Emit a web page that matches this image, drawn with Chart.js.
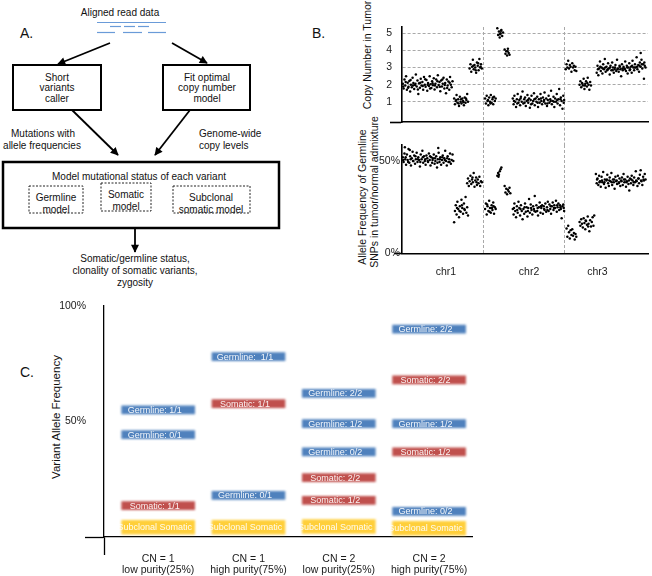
<!DOCTYPE html>
<html>
<head>
<meta charset="utf-8">
<script src="https://cdn.jsdelivr.net/npm/chart.js@4.4.0/dist/chart.umd.min.js"></script>
<style>
  html, body { margin:0; padding:0; background:#fff; }
  body { width:652px; height:576px; position:relative; overflow:hidden; font-family:"Liberation Sans", Arial, sans-serif; color:#111; }
  canvas { position:absolute; }
  .t { position:absolute; white-space:nowrap; transform:translate(-50%,-50%); line-height:1; }
  .rot { transform:translate(-50%,-50%) rotate(-90deg); }
  svg { position:absolute; left:0; top:0; }
</style>
</head>
<body>

<!-- Panel A : flowchart -->
<svg width="330" height="292" viewBox="0 0 330 292" font-family="Liberation Sans, Arial, sans-serif" font-size="10" fill="#111">
  <defs>
    <marker id="ah" viewBox="0 0 10 10" refX="9" refY="5" markerWidth="9" markerHeight="8" markerUnits="userSpaceOnUse" orient="auto">
      <path d="M0,0 L10,5 L0,10 z" fill="#000"/>
    </marker>
  </defs>
  <text x="120" y="12" text-anchor="middle" dominant-baseline="central">Aligned read data</text>
  <g stroke="#6a9bd8" stroke-width="1.2">
    <line x1="97" y1="22.5" x2="166" y2="22.5"/>
    <line x1="110" y1="26.5" x2="121" y2="26.5"/><line x1="124" y1="26.5" x2="135" y2="26.5"/><line x1="138" y1="26.5" x2="149" y2="26.5"/>
    <line x1="97" y1="32.5" x2="115" y2="32.5"/><line x1="123" y1="32.5" x2="142" y2="32.5"/><line x1="148" y1="32.5" x2="166" y2="32.5"/>
  </g>
  <text x="20" y="33" font-size="14" dominant-baseline="central">A.</text>
  <text x="312" y="33" font-size="14" dominant-baseline="central">B.</text>
  <g stroke="#000" stroke-width="1.8" marker-end="url(#ah)">
    <line x1="110" y1="43" x2="58" y2="64"/>
    <line x1="172" y1="43" x2="207" y2="63"/>
    <line x1="72" y1="110" x2="118" y2="155"/>
    <line x1="190" y1="110" x2="155" y2="155"/>
    <line x1="135" y1="229" x2="135" y2="252"/>
  </g>
  <rect x="13" y="65" width="88" height="45" fill="none" stroke="#000" stroke-width="2"/>
  <rect x="163" y="65" width="87" height="45" fill="none" stroke="#000" stroke-width="2"/>
  <g text-anchor="middle" dominant-baseline="central">
    <text x="57" y="77">Short</text><text x="57" y="87.5">variants</text><text x="57" y="98">caller</text>
    <text x="207" y="77">Fit optimal</text><text x="207" y="87.5">copy number</text><text x="207" y="98">model</text>
    <text x="43" y="133">Mutations with</text><text x="42" y="145">allele frequencies</text>
  </g>
  <g dominant-baseline="central">
    <text x="199" y="133">Genome-wide</text><text x="199" y="145">copy levels</text>
  </g>
  <rect x="3" y="162" width="276" height="66" fill="none" stroke="#000" stroke-width="2.5"/>
  <g fill="none" stroke="#222" stroke-width="1" stroke-dasharray="2,1.5">
    <rect x="29" y="186" width="54" height="27"/>
    <rect x="101" y="183" width="50" height="28"/>
    <rect x="173" y="186" width="77" height="27"/>
  </g>
  <g text-anchor="middle" dominant-baseline="central">
    <text x="139" y="176">Model mutational status of each variant</text>
    <text x="56" y="197">Germline</text><text x="56" y="209">model</text>
    <text x="126" y="194">Somatic</text><text x="126" y="206">model</text>
    <text x="211" y="197">Subclonal</text><text x="211" y="209">somatic model</text>
    <text x="135" y="258.5">Somatic/germline status,</text>
    <text x="135" y="270.5">clonality of somatic variants,</text>
    <text x="135" y="282.5">zygosity</text>
  </g>
</svg>

<!-- Panel B -->
<div class="t rot" style="left:367px; top:55px; font-size:10.5px;">Copy Number in Tumor</div>
<div class="t rot" style="left:362px; top:197px; font-size:10.5px;">Allele Frequency of Germline</div>
<div class="t rot" style="left:374px; top:192px; font-size:10.5px;">SNPs in tumor/normal admixture</div>
<canvas id="cn" width="312" height="145" style="left:340px; top:0px;"></canvas>
<canvas id="af" width="312" height="155" style="left:340px; top:135px;"></canvas>

<!-- Panel C -->
<div class="t" style="left:27px; top:372px; font-size:14px; transform:translate(-50%,-50%);">C.</div>
<div class="t rot" style="left:57px; top:417px; font-size:11.5px;">Variant Allele Frequency</div>
<canvas id="vaf" width="490" height="286" style="left:0px; top:290px;"></canvas>

<script>
// ---------- Panel B data : copy number in tumor ([chromosome position, copy number]) ----------
const cnChr1 = [
[0.01,2.05],[0.02,1.78],[0.03,2.3],[0.04,1.95],[0.05,2.5],[0.06,1.7],[0.07,2.12],[0.08,1.88],[0.09,2.22],[0.10,1.6],
[0.11,2.0],[0.12,1.85],[0.13,2.4],[0.14,2.1],[0.15,1.75],[0.16,1.98],[0.17,2.6],[0.18,1.9],[0.19,2.25],[0.20,1.45],
[0.21,2.08],[0.22,1.82],[0.23,2.35],[0.24,1.95],[0.25,2.15],[0.26,1.7],[0.27,2.45],[0.28,2.0],[0.29,1.88],[0.30,2.28],
[0.31,1.65],[0.32,2.1],[0.33,1.92],[0.34,2.5],[0.35,2.02],[0.36,1.8],[0.37,2.2],[0.38,1.96],[0.39,2.38],[0.40,1.72],
[0.41,2.06],[0.42,2.3],[0.43,1.85],[0.44,2.55],[0.45,1.98],[0.46,2.15],[0.47,1.62],[0.48,2.25],[0.49,1.9],[0.50,2.05],
[0.51,2.4],[0.52,1.78],[0.53,2.1],[0.54,1.5],[0.55,2.3],[0.56,1.95],[0.57,2.18],[0.58,1.7],[0.59,2.45],[0.60,2.0],
[0.61,1.85],[0.62,2.2],[0.015,1.9],[0.045,2.15],[0.075,1.82],[0.105,2.28],[0.135,1.95],[0.165,2.05],[0.195,1.72],[0.225,2.12],
[0.255,1.92],[0.285,2.32],[0.315,2.0],[0.345,1.78],[0.375,2.08],[0.405,1.95],[0.435,2.2],[0.465,1.88],[0.495,2.3],[0.525,1.98],
[0.555,1.8],[0.585,2.12],
[0.64,1.2],[0.65,0.85],[0.66,1.05],[0.67,1.4],[0.68,0.95],[0.69,1.15],[0.70,0.75],[0.71,1.3],[0.72,1.0],[0.73,0.9],
[0.74,1.2],[0.75,1.05],[0.76,0.8],[0.77,1.25],[0.78,0.95],[0.79,1.1],[0.80,1.45],[0.81,1.0],[0.665,1.1],[0.695,0.9],
[0.725,1.15],[0.755,0.98],[0.785,1.2],
[0.83,2.95],[0.84,3.2],[0.85,2.75],[0.86,3.05],[0.87,3.45],[0.88,2.9],[0.89,3.15],[0.90,3.0],[0.91,2.7],[0.92,3.3],
[0.93,3.1],[0.94,2.85],[0.95,3.5],[0.96,3.0],[0.97,3.2],[0.98,2.95],[0.875,3.1],[0.905,2.85],[0.935,3.25],[0.965,3.05]
];
const cnChr2 = [
[1.02,1.2],[1.03,0.9],[1.04,1.35],[1.05,1.05],[1.06,0.8],[1.07,1.25],[1.08,1.0],[1.09,1.4],[1.10,0.95],[1.11,1.15],
[1.12,0.85],[1.13,1.3],[1.14,1.05],[1.15,1.2],[1.055,1.1],[1.085,0.9],[1.115,1.25],
[1.17,5.3],[1.18,4.9],[1.19,5.1],[1.20,4.75],[1.21,5.0],[1.22,5.2],[1.23,4.85],[1.24,5.05],[1.185,5.45],[1.205,4.95],[1.215,5.15],
[1.26,4.05],[1.27,3.8],[1.28,3.95],[1.29,3.7],[1.30,4.1],[1.31,3.85],[1.32,3.75],[1.295,3.95],
[1.36,1.2],[1.37,0.85],[1.38,1.35],[1.39,1.0],[1.40,0.7],[1.41,1.15],[1.42,1.45],[1.43,0.95],[1.44,1.1],[1.45,0.8],
[1.46,1.3],[1.47,1.0],[1.48,1.6],[1.49,0.9],[1.50,1.15],[1.51,1.25],[1.52,0.75],[1.53,1.05],[1.54,1.4],[1.55,0.95],
[1.56,1.2],[1.57,0.65],[1.58,1.1],[1.59,1.35],[1.60,0.9],[1.61,1.05],[1.62,1.5],[1.63,0.8],[1.64,1.2],[1.65,1.0],
[1.66,1.3],[1.67,0.7],[1.68,1.15],[1.69,0.95],[1.70,1.45],[1.71,1.05],[1.72,0.85],[1.73,1.25],[1.74,1.0],[1.75,1.55],
[1.76,0.9],[1.77,1.2],[1.78,0.75],[1.79,1.1],[1.80,1.35],[1.81,0.95],[1.82,1.15],[1.83,1.65],[1.84,0.85],[1.85,1.05],
[1.86,1.3],[1.87,0.7],[1.88,1.2],[1.89,1.0],[1.90,1.45],[1.91,0.9],[1.92,1.15],[1.93,1.75],[1.94,0.8],[1.95,1.25],
[1.96,1.05],[1.97,0.6],[1.98,1.35],[1.99,1.1],[1.375,1.05],[1.415,0.9],[1.455,1.2],[1.505,0.95],[1.545,1.1],[1.585,0.85],
[1.625,1.15],[1.665,0.95],[1.705,1.2],[1.745,1.1],[1.785,0.9],[1.825,1.05],[1.865,1.0],[1.905,1.1],[1.945,1.15],[1.985,0.95]
];
const cnChr3 = [
[2.01,2.9],[2.02,3.2],[2.03,3.0],[2.04,3.4],[2.05,2.95],[2.06,3.15],[2.07,3.05],[2.08,2.75],[2.09,3.25],[2.10,3.0],
[2.11,3.1],[2.12,2.85],[2.13,3.05],[2.14,2.8],
[2.18,2.0],[2.19,2.2],[2.20,1.85],[2.21,2.1],[2.22,1.95],[2.23,2.35],[2.24,1.75],[2.25,2.05],[2.26,2.2],[2.27,1.9],
[2.28,2.4],[2.29,2.0],[2.30,1.7],[2.31,2.15],[2.32,1.95],[2.215,2.05],[2.245,1.95],[2.275,2.1],
[2.39,2.7],[2.40,3.1],[2.41,2.55],[2.42,2.95],[2.43,3.35],[2.44,2.8],[2.45,3.0],[2.46,2.65],[2.47,3.2],[2.48,2.9],
[2.49,3.5],[2.50,2.75],[2.51,3.05],[2.52,2.85],[2.53,3.25],[2.54,2.95],[2.55,2.6],[2.56,3.1],[2.57,2.85],[2.58,3.3],
[2.59,3.0],[2.60,2.7],[2.61,2.9],[2.62,3.15],[2.63,2.8],[2.64,3.45],[2.65,2.95],[2.66,2.75],[2.67,3.1],[2.68,2.9],
[2.69,2.5],[2.70,3.2],[2.71,2.85],[2.72,3.05],[2.73,2.95],[2.74,3.35],[2.75,2.8],[2.76,3.1],[2.77,2.65],[2.78,3.0],
[2.79,3.25],[2.80,2.9],[2.81,3.05],[2.82,2.7],[2.83,3.4],[2.84,3.0],[2.85,2.85],[2.86,3.2],[2.87,3.0],[2.88,3.6],
[2.89,2.9],[2.90,3.15],[2.91,2.75],[2.92,3.3],[2.93,3.05],[2.94,3.45],[2.95,2.95],[2.96,3.2],[2.97,2.35],[2.98,3.1],
[2.99,3.0],[2.93,3.85],[2.405,2.9],[2.435,3.05],[2.465,2.95],[2.495,3.0],[2.525,2.9],[2.555,3.0],[2.585,2.85],[2.615,3.0],
[2.645,2.9],[2.675,3.05],[2.705,2.95],[2.735,2.9],[2.765,3.0],[2.795,2.85],[2.825,3.1],[2.855,3.0],[2.885,3.05],[2.915,3.1],
[2.945,3.2],[2.975,3.3]
];

// ---------- Panel B data : germline SNP allele frequency (%) ----------
const afChr1 = [
[0.01,52],[0.02,49.5],[0.03,54],[0.04,51],[0.05,48],[0.06,53.5],[0.07,50.5],[0.08,56.5],[0.09,49],[0.10,52.5],
[0.11,47.5],[0.12,51.5],[0.13,55],[0.14,50],[0.15,53],[0.16,48.5],[0.17,51],[0.18,54.5],[0.19,49.5],[0.20,52],
[0.21,50.5],[0.22,47],[0.23,53.5],[0.24,51],[0.25,55.5],[0.26,49],[0.27,52.5],[0.28,50],[0.29,48],[0.30,53],
[0.31,51.5],[0.32,49.5],[0.33,54],[0.34,50.5],[0.35,47.5],[0.36,52],[0.37,49],[0.38,51.5],[0.39,53.5],[0.40,48.5],
[0.41,50],[0.42,52.5],[0.43,46.5],[0.44,51],[0.45,54.5],[0.46,49.5],[0.47,52],[0.48,48],[0.49,50.5],[0.50,53],
[0.51,49],[0.52,51.5],[0.53,55.5],[0.54,50],[0.55,47.5],[0.56,52.5],[0.57,49.5],[0.58,51],[0.59,54],[0.60,48.5],
[0.61,50.5],[0.62,53.5],[0.63,50],[0.015,50.5],[0.045,52],[0.075,49.5],[0.105,51],[0.135,50],[0.165,52.5],[0.195,51],
[0.225,49.5],[0.255,52],[0.285,51],[0.315,50],[0.345,52.5],[0.375,50.5],[0.405,51.5],[0.435,49],[0.465,51],[0.495,52],
[0.525,50.5],[0.555,51.5],[0.585,49.5],[0.035,57.5],[0.095,56],[0.445,57],
[0.64,16.8],[0.65,23],[0.66,26],[0.67,21],[0.68,28],[0.69,24],[0.70,19.5],[0.71,25.5],[0.72,22.5],[0.73,29],
[0.74,24.5],[0.75,21.5],[0.76,27],[0.77,23.5],[0.78,30.5],[0.79,22],[0.80,25],[0.81,20.5],[0.675,24.5],[0.705,23],
[0.735,26],[0.765,24],
[0.80,38],[0.81,40.5],[0.82,36.5],[0.83,39],[0.84,42],[0.85,37.5],[0.86,40],[0.87,38.5],[0.88,43.5],[0.89,36],
[0.90,39.5],[0.91,41],[0.92,37],[0.93,40],[0.94,38],[0.95,41.5],[0.96,36.5],[0.97,39],[0.98,38.5],[0.865,41],[0.915,38.5]
];
const afChr2 = [
[1.02,24],[1.03,27],[1.04,21],[1.05,25.5],[1.06,23],[1.07,28.5],[1.08,24.5],[1.09,22],[1.10,26],[1.11,23.5],
[1.12,27.5],[1.13,21.5],[1.14,25],[1.15,24],[1.045,26.5],[1.075,22.5],[1.105,24.5],[1.125,25.5],
[1.17,42],[1.18,43.5],[1.19,42.5],[1.20,44.5],[1.21,45.5],[1.22,46.5],[1.185,41.5],
[1.26,36.5],[1.27,33],[1.28,35],[1.29,32],[1.30,34.5],[1.31,33.5],[1.32,35.5],[1.33,32.5],
[1.36,24],[1.37,21],[1.38,27],[1.39,23],[1.40,19.5],[1.41,25.5],[1.42,22],[1.43,28],[1.44,24.5],[1.45,20.5],
[1.46,26],[1.47,23],[1.48,18.5],[1.49,24],[1.50,21.5],[1.51,27],[1.52,22.5],[1.53,25],[1.54,20],[1.55,24.5],
[1.56,29.5],[1.57,22],[1.58,26.5],[1.59,23.5],[1.60,21],[1.61,25.5],[1.62,24],[1.63,31],[1.64,22.5],[1.65,26],
[1.66,23],[1.67,20.5],[1.68,25],[1.69,27.5],[1.70,22],[1.71,24.5],[1.72,26],[1.73,21.5],[1.74,25.5],[1.75,23.5],
[1.76,27],[1.77,22.5],[1.78,25],[1.79,28],[1.80,23],[1.81,26.5],[1.82,24],[1.83,21.5],[1.84,25.5],[1.85,27.5],
[1.86,23.5],[1.87,26],[1.88,24.5],[1.89,28.5],[1.90,22.5],[1.91,25],[1.92,27],[1.93,23.5],[1.94,26],[1.95,24],
[1.96,19],[1.97,25.5],[1.98,26.5],[1.99,23],[1.375,24.5],[1.415,23.5],[1.455,24],[1.505,25],[1.545,23],[1.585,24.5],
[1.625,23],[1.665,24.5],[1.705,25.5],[1.745,24],[1.785,23.5],[1.825,25.5],[1.865,24.5],[1.905,26],[1.945,25],[1.985,24.5]
];
const afChr3 = [
[2.02,13.5],[2.03,9],[2.04,15],[2.05,11.5],[2.06,8],[2.07,12.5],[2.08,10],[2.09,13],[2.10,9.5],[2.11,11],
[2.12,7.5],[2.13,10.5],[2.14,9],
[2.18,17],[2.19,15],[2.20,18.5],[2.21,16],[2.22,14],[2.23,19],[2.24,16.5],[2.25,13],[2.26,17.5],[2.27,15.5],
[2.28,20],[2.29,16],[2.30,12],[2.31,18],[2.32,14.5],[2.33,17],[2.34,19.5],[2.35,15],[2.36,20.5],[2.255,17.8],[2.285,14.5],
[2.38,43],[2.39,38],[2.40,40.5],[2.41,37],[2.42,42],[2.43,39],[2.44,36],[2.45,41.5],[2.46,38.5],[2.47,44],
[2.48,37.5],[2.49,40],[2.50,35.5],[2.51,39.5],[2.52,42.5],[2.53,38],[2.54,36.5],[2.55,41],[2.56,39],[2.57,43.5],
[2.58,37],[2.59,40],[2.60,38.5],[2.61,35],[2.62,41.5],[2.63,39],[2.64,37.5],[2.65,42],[2.66,38],[2.67,40.5],
[2.68,36.5],[2.69,39.5],[2.70,41],[2.71,37],[2.72,43],[2.73,38.5],[2.74,40],[2.75,36],[2.76,39],[2.77,41.5],
[2.78,37.5],[2.79,34],[2.80,40.5],[2.81,38],[2.82,42],[2.83,39.5],[2.84,37],[2.85,41],[2.86,38.5],[2.87,44.5],
[2.88,39],[2.89,36.5],[2.90,40.5],[2.91,38],[2.92,42.5],[2.93,45],[2.94,39],[2.95,37],[2.96,41.5],[2.97,39.5],
[2.98,43],[2.99,40],[2.395,40],[2.425,38.5],[2.455,39.5],[2.485,38.5],[2.515,40],[2.545,39.5],[2.575,38.5],[2.605,40],
[2.635,39.5],[2.665,38.5],[2.695,39],[2.725,40],[2.755,38.5],[2.785,39.5],[2.815,40],[2.845,38.5],[2.875,39.5],[2.905,40.5],
[2.935,39.5],[2.965,40]
];
const chrLabels = ['chr1', 'chr2', 'chr3'];
const chrBoundaries = [1, 2];
const cnTicks = [1, 2, 3, 4, 5];
const afTicks = [0, 50];

// ---------- Panel C data ----------
const categories = [['CN = 1', 'low purity(25%)'], ['CN = 1', 'high purity(75%)'], ['CN = 2', 'low purity(25%)'], ['CN = 2', 'high purity(75%)']];
const germlineCat = [0, 0, 1, 1, 2, 2, 2, 3, 3, 3];
const germlineVaf = [55.0, 44.3, 78.1, 18.0, 62.2, 49.1, 36.8, 90.0, 49.1, 11.1];
const germlineLabels = ['Germline: 1/1', 'Germline: 0/1', 'Germline:  1/1', 'Germline: 0/1', 'Germline: 2/2', 'Germline: 1/2', 'Germline: 0/2', 'Germline: 2/2', 'Germline: 1/2', 'Germline: 0/2'];
const somaticCat = [0, 1, 2, 2, 3, 3];
const somaticVaf = [13.6, 57.7, 25.7, 15.9, 68.0, 36.9];
const somaticLabels = ['Somatic: 1/1', 'Somatic: 1/1', 'Somatic: 2/2', 'Somatic: 1/2', 'Somatic: 2/2', 'Somatic: 1/2'];
const subclonalCat = [0, 1, 2, 3];
const subclonalVaf = [4.2, 4.2, 4.5, 3.8];
const subclonalLabels = ['Subclonal Somatic', 'Subclonal Somatic', 'Subclonal Somatic', 'Subclonal Somatic'];
const vafTicks = [0, 50, 100];

// ---------- common ----------
Chart.defaults.font.family = '"Liberation Sans", Arial, sans-serif';
Chart.defaults.color = '#1a1a1a';
const GRID = '#a9a9a9';
const noPlugins = { legend: { display: false }, tooltip: { enabled: false } };
const hasTick = (c) => c && c.tick;

// ---------- Panel B top : copy number ----------
const CN_MIN = -0.18;
new Chart(document.getElementById('cn'), {
  type: 'scatter',
  data: { datasets: [cnChr1, cnChr2, cnChr3].map(d => ({ data: d, backgroundColor: '#000', pointRadius: 1.25, borderWidth: 0 })) },
  options: {
    responsive: false, animation: false, devicePixelRatio: 1, events: [],
    layout: { padding: { top: 27, left: 0, right: 0, bottom: 0 } },
    plugins: noPlugins,
    scales: {
      x: {
        type: 'linear', min: 0, max: 3.02, offset: false,
        afterBuildTicks: s => { s.ticks = chrBoundaries.map(v => ({ value: v })); },
        ticks: { display: false },
        grid: { color: GRID, lineWidth: 1, offset: false, drawTicks: true, tickLength: 23, tickColor: GRID, tickWidth: 1, tickBorderDash: [3, 2] },
        border: { display: true, color: '#000', width: 1.6, dash: [3, 2] }
      },
      y: {
        type: 'linear', min: CN_MIN, max: 5.37,
        afterBuildTicks: s => { s.ticks = [CN_MIN].concat(cnTicks).map(v => ({ value: v })); },
        afterFit: s => { s.width = 62; },
        ticks: { padding: -2, font: { size: 10.5 }, callback: v => (v < 0 ? '' : String(v)) },
        grid: {
          color: c => (hasTick(c) && c.tick.value < 0 ? 'rgba(0,0,0,0)' : GRID), lineWidth: 1,
          drawTicks: true, tickLength: 12, tickWidth: 1.6,
          tickColor: c => (hasTick(c) && c.tick.value < 0 ? '#000' : 'rgba(0,0,0,0)')
        },
        border: { display: true, color: '#000', width: 1.6, dash: [3, 2] }
      }
    }
  }
});

// ---------- Panel B bottom : allele frequency ----------
const chrLabelPos = [0.54, 1.56, 2.40];
new Chart(document.getElementById('af'), {
  type: 'scatter',
  data: { datasets: [afChr1, afChr2, afChr3].map(d => ({ data: d, backgroundColor: '#000', pointRadius: 1.25, borderWidth: 0 })) },
  options: {
    responsive: false, animation: false, devicePixelRatio: 1, events: [],
    layout: { padding: { top: 10, left: 0, right: 0, bottom: 0 } },
    plugins: noPlugins,
    scales: {
      x: {
        type: 'linear', min: 0, max: 3.02, offset: false,
        afterBuildTicks: s => { s.ticks = chrBoundaries.concat(chrLabelPos).sort((a, b) => a - b).map(v => ({ value: v })); },
        ticks: {
          padding: 12, font: { size: 10.5 }, maxRotation: 0, autoSkip: false,
          callback: v => { const i = chrLabelPos.indexOf(v); return i >= 0 ? chrLabels[i] : ''; }
        },
        grid: {
          color: c => (hasTick(c) && chrBoundaries.includes(c.tick.value) ? GRID : 'rgba(0,0,0,0)'),
          lineWidth: 1, offset: false, drawTicks: false
        },
        border: { display: true, color: '#000', width: 1.6, dash: [3, 2] }
      },
      y: {
        type: 'linear', min: 0, max: 58.65,
        afterBuildTicks: s => { s.ticks = afTicks.map(v => ({ value: v })); },
        afterFit: s => { s.width = 62; },
        ticks: { padding: -6, font: { size: 10.5 }, callback: v => v + '%' },
        grid: {
          color: 'rgba(0,0,0,0)', drawTicks: true, tickLength: 8, tickWidth: 1.6,
          tickColor: c => (hasTick(c) && c.tick.value === 0 ? '#000' : 'rgba(0,0,0,0)')
        },
        border: { display: true, color: '#000', width: 1.6 }
      }
    }
  }
});

// ---------- Panel C : variant allele frequency bands ----------
const X_MIN = -0.6, X_MAX = 3.475;
const band = (cats, vafs, half) => cats.map((c, i) => ({ x: c, y: [vafs[i] - half, vafs[i] + half] }));
const bandLabelPlugin = {
  id: 'bandLabels',
  beforeDatasetsDraw(chart) { chart.ctx.save(); chart.ctx.filter = 'blur(1.1px)'; },
  afterDatasetsDraw(chart) {
    const ctx = chart.ctx;
    ctx.restore();
    ctx.save();
    ctx.filter = 'blur(0.3px)';
    ctx.fillStyle = 'rgba(255,255,255,0.93)';
    ctx.font = '9px "Liberation Sans", Arial, sans-serif';
    ctx.textAlign = 'center';
    ctx.textBaseline = 'middle';
    chart.data.datasets.forEach((ds, di) => {
      chart.getDatasetMeta(di).data.forEach((el, i) => {
        ctx.fillText(ds.bandLabels[i], el.x - 3.5, (el.y + el.base) / 2 + 0.5);
      });
    });
    ctx.restore();
  }
};
new Chart(document.getElementById('vaf'), {
  type: 'bar',
  data: {
    datasets: [
      { data: band(subclonalCat, subclonalVaf, 3.0), bandLabels: subclonalLabels, backgroundColor: '#ffcf3a' },
      { data: band(somaticCat, somaticVaf, 1.75), bandLabels: somaticLabels, backgroundColor: '#c0504d' },
      { data: band(germlineCat, germlineVaf, 1.75), bandLabels: germlineLabels, backgroundColor: '#4f81bd' }
    ].map(d => Object.assign(d, { grouped: false, barThickness: 73, borderWidth: 0, borderSkipped: false }))
  },
  options: {
    responsive: false, animation: false, devicePixelRatio: 1, events: [],
    layout: { padding: { top: 16, left: 0, right: 18, bottom: 0 } },
    plugins: noPlugins,
    scales: {
      x: {
        type: 'linear', min: X_MIN, max: X_MAX, offset: false,
        afterBuildTicks: s => { s.ticks = [X_MIN, 0, 1, 2, 3].map(v => ({ value: v })); },
        afterFit: s => { s.height = 39; },
        ticks: {
          padding: -2, font: { size: 10.5, lineHeight: 1.1 }, maxRotation: 0, autoSkip: false,
          callback: v => (v < 0 ? '' : categories[v])
        },
        grid: {
          drawOnChartArea: false, offset: false, drawTicks: true, tickLength: 18, tickWidth: 1.3,
          color: 'rgba(0,0,0,0)',
          tickColor: c => (hasTick(c) && c.tick.value < 0 ? '#000' : 'rgba(0,0,0,0)')
        },
        border: { display: true, color: '#000', width: 1.3 }
      },
      y: {
        type: 'linear', min: 0, max: 100,
        afterBuildTicks: s => { s.ticks = vafTicks.map(v => ({ value: v })); },
        afterFit: s => { s.width = 104; },
        ticks: { padding: -1, font: { size: 10.5 }, callback: v => (v === 0 ? '' : v + '%') },
        grid: {
          drawOnChartArea: false, drawTicks: true, tickLength: 19, tickWidth: 1.3,
          color: 'rgba(0,0,0,0)',
          tickColor: c => (hasTick(c) && c.tick.value === 0 ? '#000' : 'rgba(0,0,0,0)')
        },
        border: { display: true, color: '#000', width: 1.3 }
      }
    }
  },
  plugins: [bandLabelPlugin]
});
</script>
</body>
</html>
